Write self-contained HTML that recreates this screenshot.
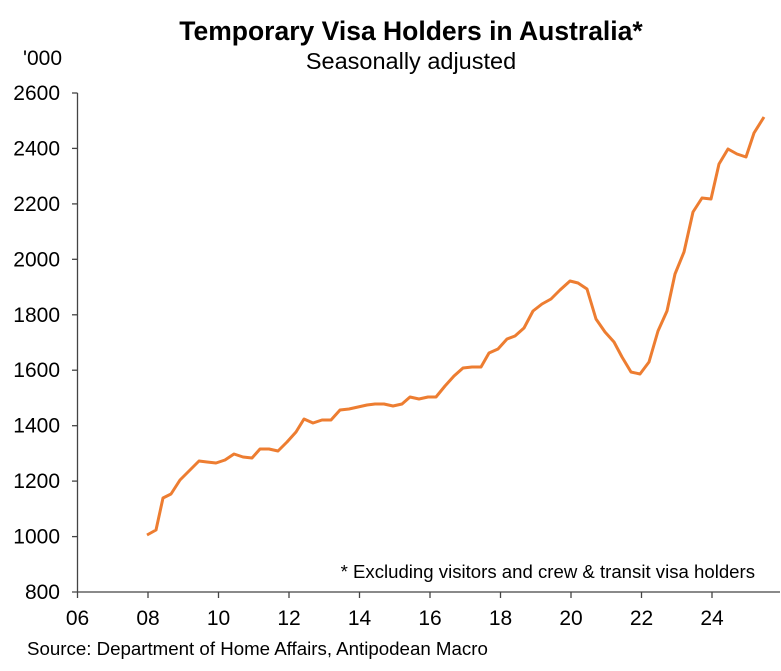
<!DOCTYPE html>
<html><head><meta charset="utf-8"><style>
body{margin:0;background:#fff;}
svg text{font-family:"Liberation Sans",Arial,sans-serif;fill:#000;}
</style></head><body>
<svg width="781" height="666" viewBox="0 0 781 666" xmlns="http://www.w3.org/2000/svg">
<text x="411" y="40" font-size="26.5" font-weight="bold" text-anchor="middle">Temporary Visa Holders in Australia*</text>
<text x="411" y="69" font-size="23.5" text-anchor="middle">Seasonally adjusted</text>
<text x="62" y="65" font-size="21" text-anchor="end">'000</text>
<g stroke="#444" stroke-width="1.3" fill="none">
<line x1="77.5" y1="93" x2="77.5" y2="592"/>
<line x1="72" y1="592" x2="780" y2="592"/>
<line x1="72" y1="93" x2="77.5" y2="93"/><line x1="72" y1="148.4" x2="77.5" y2="148.4"/><line x1="72" y1="203.9" x2="77.5" y2="203.9"/><line x1="72" y1="259.3" x2="77.5" y2="259.3"/><line x1="72" y1="314.8" x2="77.5" y2="314.8"/><line x1="72" y1="370.2" x2="77.5" y2="370.2"/><line x1="72" y1="425.7" x2="77.5" y2="425.7"/><line x1="72" y1="481.1" x2="77.5" y2="481.1"/><line x1="72" y1="536.6" x2="77.5" y2="536.6"/>
<line x1="77.5" y1="592" x2="77.5" y2="598"/><line x1="148" y1="592" x2="148" y2="598"/><line x1="218.5" y1="592" x2="218.5" y2="598"/><line x1="289" y1="592" x2="289" y2="598"/><line x1="359.5" y1="592" x2="359.5" y2="598"/><line x1="430" y1="592" x2="430" y2="598"/><line x1="500.5" y1="592" x2="500.5" y2="598"/><line x1="571" y1="592" x2="571" y2="598"/><line x1="641.5" y1="592" x2="641.5" y2="598"/><line x1="712" y1="592" x2="712" y2="598"/>
</g>
<g font-size="21" text-anchor="end">
<text x="60" y="100">2600</text><text x="60" y="155.4">2400</text><text x="60" y="210.9">2200</text><text x="60" y="266.3">2000</text><text x="60" y="321.8">1800</text><text x="60" y="377.2">1600</text><text x="60" y="432.7">1400</text><text x="60" y="488.1">1200</text><text x="60" y="543.6">1000</text><text x="60" y="599">800</text>
</g>
<g font-size="21" text-anchor="middle">
<text x="77.5" y="625">06</text><text x="148" y="625">08</text><text x="218.5" y="625">10</text><text x="289" y="625">12</text><text x="359.5" y="625">14</text><text x="430" y="625">16</text><text x="500.5" y="625">18</text><text x="571" y="625">20</text><text x="641.5" y="625">22</text><text x="712" y="625">24</text>
</g>
<text x="755" y="578" font-size="18.6" text-anchor="end">* Excluding visitors and crew &amp; transit visa holders</text>
<text x="27" y="655" font-size="18.7">Source: Department of Home Affairs, Antipodean Macro</text>
<polyline fill="none" stroke="#ED7D31" stroke-width="3" stroke-linejoin="round" points="147,535 156,530 163,498 171,494 180,480 190,470 199,461 207,462 216,463 225,460 234,454 243,457 252,458 260,449 269,449 278,451 287,442 296,432 304,419 313,423 322,420 331,420 340,410 349,409 358,407 367,405 375,404 384,404 393,406 402,404 410,397 419,399 428,397 436,397 445,386 454,376 463,368 472,367 481,367 489,353 498,349 507,339 515,336 524,328 533,311 542,304 551,299 560,290 570,281 578,283 587,289 596,319 605,332 614,342 622,357 631,372 640,374 649,362 658,331 667,311 675,274 684,252 693,212 702,198 711,199 719,164 728,149 737,154 746,157 754,133 764,117"/>
</svg>
</body></html>
